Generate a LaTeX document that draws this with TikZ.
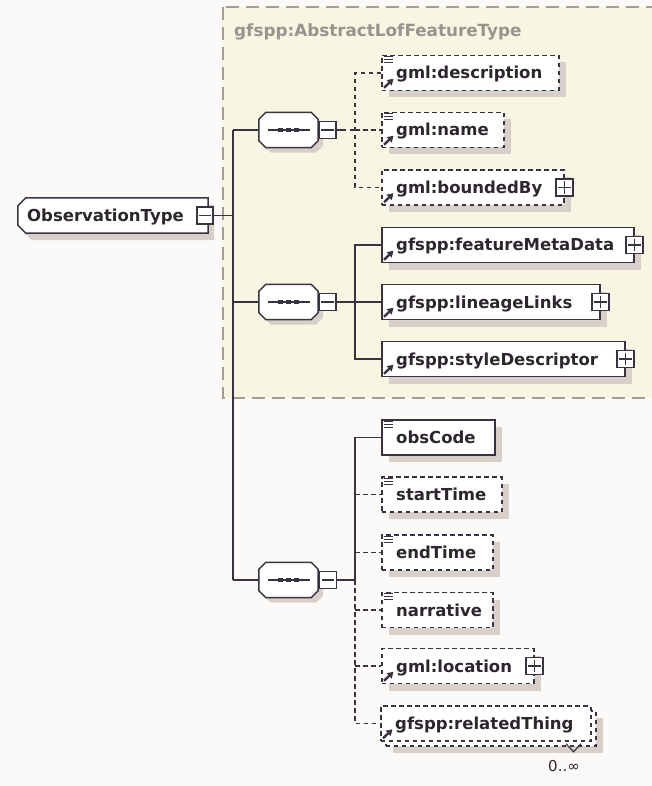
\documentclass[tikz,border=0pt]{standalone}
\usepackage{fontspec}
\setmainfont{DejaVu Sans}
\usetikzlibrary{arrows.meta,shadows}

\definecolor{bgc}{HTML}{FBFAF8}
\definecolor{groupfill}{HTML}{F7F6E3}
\definecolor{groupline}{HTML}{A39C94}
\definecolor{linec}{HTML}{3A3240}
\definecolor{textc}{HTML}{2E262E}
\definecolor{titlec}{HTML}{99938D}
\definecolor{shadowc}{HTML}{D8D0C8}

\newcommand\elemfont{\fontsize{16.5}{18}\selectfont\bfseries}

\tikzset{
  ln/.style={draw=linec, line width=1.5pt},
  opt/.style={dash pattern=on 4.5pt off 3.5pt},
  elem/.style={ln, fill=white, rectangle, inner sep=0pt, minimum height=35pt, anchor=west,
    drop shadow={shadow xshift=7pt, shadow yshift=-7pt, fill=shadowc, opacity=1}},
  flatelem/.style={ln, fill=white, rectangle, inner sep=0pt, minimum height=35pt, anchor=west},
  lbl/.style={anchor=base west, inner sep=0pt, text=textc, font=\elemfont},
  titlelbl/.style={anchor=base west, inner sep=0pt, text=titlec, font=\fontsize{16.8}{18}\selectfont\bfseries},
  pmbox/.style={ln, line width=1.3pt, fill=white, rectangle, inner sep=0pt, minimum width=17pt, minimum height=17pt},
  seqbase/.style={rectangle, inner sep=0pt, minimum width=59pt, minimum height=35pt},
  icon/.style={linec, line width=1.3pt},
}

% label placed inside an element box
\newcommand\elemlabel[3]{\node[lbl] (#2) at ([xshift=15pt,yshift=-6pt]#1.west) {#3};}
% simple-content marker (three short bars, top left)
\newcommand\simpleicon[1]{%
  \draw[icon] ([xshift=2.5pt,yshift=-2pt]#1.north west) -- +(9,0)
              ([xshift=2.5pt,yshift=-5pt]#1.north west) -- +(9,0)
              ([xshift=2.5pt,yshift=-8pt]#1.north west) -- +(9,0);}
% reference marker (small arrow, bottom left)
\newcommand\refarrow[1]{%
  \draw[linec, line width=2.4pt, -{Triangle[length=6pt,width=7pt]}]
    ([xshift=3pt,yshift=3.5pt]#1.south west) -- ([xshift=12.5pt,yshift=12.5pt]#1.south west);}
% expand box with plus sign on the right edge of an element
\newcommand\plusbox[2]{%
  \node[pmbox] (#2) at (#1.east) {};
  \draw[linec, line width=1.2pt] ([xshift=3pt]#2.west) -- ([xshift=-3pt]#2.east)
                                 ([yshift=-3pt]#2.north) -- ([yshift=3pt]#2.south);}
% collapse box with minus sign
\newcommand\minusbox[3]{%
  \node[pmbox, minimum width=#3] (#2) at #1 {};
  \draw[linec, line width=1.2pt] ([xshift=3pt]#2.west) -- ([xshift=-3pt]#2.east);}
% octagonal sequence compositor
\newcommand\seqpath[2]{%
  ([xshift=#2]#1.north west) -- ([xshift=-#2]#1.north east) -- ([yshift=-#2]#1.north east)
  -- ([yshift=#2]#1.south east) -- ([xshift=-#2]#1.south east) -- ([xshift=#2]#1.south west)
  -- ([yshift=#2]#1.south west) -- ([yshift=-#2]#1.north west) -- cycle}
\newcommand\seqshape[1]{%
  \begin{scope}[transform canvas={xshift=5pt,yshift=-5pt}]
    \fill[shadowc] \seqpath{#1}{7pt};
  \end{scope}
  \draw[ln, fill=white] \seqpath{#1}{7pt};
  \draw[linec, line width=1.4pt] ([xshift=9pt]#1.west) -- ([xshift=-8pt]#1.east);
  \foreach \d in {-8,0,8}
    \fill[linec] ([xshift=\d pt]#1.center) +(-2.7,-2.2) rectangle +(2.7,2.2);}

\begin{document}
\begin{tikzpicture}[x=1pt,y=-1pt]
\useasboundingbox (0,0) rectangle (652,786);
\fill[bgc] (0,0) rectangle (652,786);

% base type group
\begin{scope}
  \clip (0,0) rectangle (652,786);
  \draw[groupline, line width=1.4pt, dash pattern=on 13pt off 7pt, fill=groupfill]
    (223,7) rectangle (690,398);
\end{scope}
\node[titlelbl] (title) at (234,37) {gfspp:AbstractLofFeatureType};

\coordinate (trunk) at (233,0);
\coordinate (bus) at (355,0);

% root element
\node[seqbase, minimum width=190pt] (ot) at (113,215.5) {};
\begin{scope}[transform canvas={xshift=6pt,yshift=-7pt}]
  \fill[shadowc] ([xshift=8pt]ot.north west) -- (ot.north east) -- (ot.south east)
    -- ([xshift=8pt]ot.south west) -- ([yshift=8pt]ot.south west) -- ([yshift=-8pt]ot.north west) -- cycle;
\end{scope}
\draw[ln, fill=white] ([xshift=8pt]ot.north west) -- (ot.north east) -- (ot.south east)
  -- ([xshift=8pt]ot.south west) -- ([yshift=8pt]ot.south west) -- ([yshift=-8pt]ot.north west) -- cycle;
\node[lbl] (otl) at (27,221.5) {ObservationType};
\minusbox{(205,215.5)}{otm}{16pt}

% sequence compositors
\node[seqbase] (s1) at (288.5,130) {};
\node[seqbase] (s2) at (288.5,302) {};
\node[seqbase] (s3) at (288.5,580) {};

% connectors
\draw[ln] (otm.east) -- (otm.east -| trunk);
\draw[ln] (s1.west -| trunk) -- (s3.west -| trunk);
\draw[ln] (s1.west -| trunk) -- (s1.west);
\draw[ln] (s2.west -| trunk) -- (s2.west);
\draw[ln] (s3.west -| trunk) -- (s3.west);

\seqshape{s1}
\seqshape{s2}
\seqshape{s3}
\minusbox{(327.5,130)}{s1m}{17pt}
\minusbox{(327.5,302)}{s2m}{17pt}
\minusbox{(328,580)}{s3m}{17pt}

% first sequence: optional gml properties
\node[elem, opt, minimum width=177pt] (desc) at (381,73) {};
\elemlabel{desc}{descl}{gml:description}
\simpleicon{desc}\refarrow{desc}
\node[elem, opt, minimum width=122pt] (gname) at (381,130) {};
\elemlabel{gname}{gnamel}{gml:name}
\simpleicon{gname}\refarrow{gname}
\node[elem, opt, minimum width=182pt] (bound) at (381,187.5) {};
\elemlabel{bound}{boundl}{gml:boundedBy}
\refarrow{bound}\plusbox{bound}{boundp}

\draw[ln] (s1m.east) -- ++(5,0) coordinate (s1j);
\draw[ln, opt] (s1j) -- (s1m.east -| bus);
\draw[ln, opt] (desc.west) -- (desc.west -| bus) -- (bound.west -| bus) -- (bound.west);
\draw[ln, opt] (gname.west -| bus) -- (gname.west);

% second sequence
\node[elem, minimum width=252pt] (fmd) at (381,245) {};
\elemlabel{fmd}{fmdl}{gfspp:featureMetaData}
\refarrow{fmd}\plusbox{fmd}{fmdp}
\node[elem, minimum width=218pt] (lin) at (381,302) {};
\elemlabel{lin}{linl}{gfspp:lineageLinks}
\refarrow{lin}\plusbox{lin}{linp}
\node[elem, minimum width=243pt] (sty) at (381,359) {};
\elemlabel{sty}{styl}{gfspp:styleDescriptor}
\refarrow{sty}\plusbox{sty}{styp}

\draw[ln] (s2m.east) -- (s2m.east -| bus);
\draw[ln] (fmd.west) -- (fmd.west -| bus) -- (sty.west -| bus) -- (sty.west);
\draw[ln] (lin.west -| bus) -- (lin.west);

% third sequence: observation properties
\node[elem, minimum width=113pt] (obs) at (381,437.5) {};
\elemlabel{obs}{obsl}{obsCode}
\simpleicon{obs}
\node[elem, opt, minimum width=120pt] (start) at (381,494.5) {};
\elemlabel{start}{startl}{startTime}
\simpleicon{start}
\node[elem, opt, minimum width=111pt] (endt) at (381,552.5) {};
\elemlabel{endt}{endtl}{endTime}
\simpleicon{endt}
\node[elem, opt, minimum width=111pt] (narr) at (381,610) {};
\elemlabel{narr}{narrl}{narrative}
\simpleicon{narr}
\node[elem, opt, minimum width=152pt] (loc) at (381,666) {};
\elemlabel{loc}{locl}{gml:location}
\refarrow{loc}\plusbox{loc}{locp}
\node[elem, opt, minimum width=210pt] (rtback) at (385,728.5) {};
\node[flatelem, opt, minimum width=210pt] (rt) at (380,723.5) {};
\elemlabel{rt}{rtl}{gfspp:relatedThing}
\refarrow{rt}
\draw[linec, line width=1.2pt] ([xshift=186pt,yshift=-2pt]rt.south west) -- +(7.5,8) -- +(15,0);
\node[anchor=base, inner sep=0pt, text=textc, font=\fontsize{15}{16}\selectfont] (occ) at (564,771) {0..∞};

\draw[ln] (s3m.east) -- (s3m.east -| bus);
\draw[ln] (obs.west) -- (obs.west -| bus) -- (s3m.east -| bus);
\draw[ln, opt] (s3m.east -| bus) -- (rt.west -| bus) -- (rt.west);
\draw[ln, opt] (start.west -| bus) -- (start.west);
\draw[ln, opt] (endt.west -| bus) -- (endt.west);
\draw[ln, opt] (narr.west -| bus) -- (narr.west);
\draw[ln, opt] (loc.west -| bus) -- (loc.west);
\end{tikzpicture}
\end{document}
